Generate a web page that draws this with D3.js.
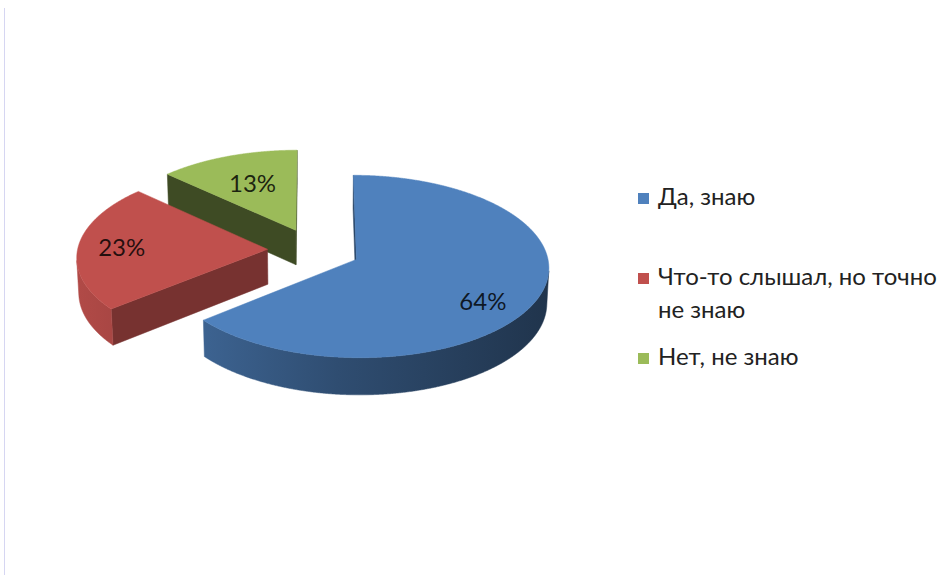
<!DOCTYPE html>
<html>
<head>
<meta charset="utf-8">
<script src="https://cdn.jsdelivr.net/npm/d3@7"></script>
<style>
  body { margin: 0; background: #fff; }
  svg { display: block; }
  text { font-family: Lato, "Noto Sans", sans-serif; }
</style>
</head>
<body>
<svg id="chart" width="937" height="575"></svg>
<script>
// data
var categories = ["Да, знаю", "Что-то слышал, но точно не знаю", "Нет, не знаю"];
var values = [64, 23, 13];
var valueLabels = ["64%", "23%", "13%"];

// styling
var colors = ["#4F81BD", "#C0504D", "#9BBB59"];
var sideShade = [0.55, 0.62, 0.40];   // flat cut faces
var labelRadius = [0.77, 0.77, 0.62];
var labelTurn = [10, 0, 0];           // degrees, clockwise

// 3d view, world units relative to radius 1
var view = {
    cx: 314, cy: 250,   // screen position of unexploded centre
    k: 190,             // pixels per radius
    dist: 11.4,         // camera distance
    tilt: 28 * Math.PI / 180,
    depth: 0.21,
    explode: 0.245
};

var svg = d3.select("#chart");
var defs = svg.append("defs");

// faint frame line on the left
svg.append("line")
    .attr("x1", 4.5).attr("x2", 4.5)
    .attr("y1", 8).attr("y2", 575)
    .attr("stroke", "#d6d6f2").attr("stroke-width", 1);

var cosT = Math.cos(view.tilt), sinT = Math.sin(view.tilt);
var cam = [0, view.dist * sinT, view.dist * cosT];

// world: x right, y up, z toward the viewer
function project(p) {
    var yv = p[1] * cosT - p[2] * sinT;
    var zv = p[1] * sinT + p[2] * cosT;
    var s = view.dist / (view.dist - zv);
    return [view.cx + view.k * p[0] * s, view.cy - view.k * yv * s];
}

function facing(p, n) {
    return (cam[0] - p[0]) * n[0] + (cam[1] - p[1]) * n[1] + (cam[2] - p[2]) * n[2] > 0;
}

function shade(c, f) {
    var r = d3.rgb(c);
    return d3.rgb(r.r * f, r.g * f, r.b * f).formatHex();
}

var line = d3.line().curve(d3.curveLinearClosed);

var arcs = d3.pie().sort(null).value(function(d) { return d; })(values);

var slices = arcs.map(function(a, i) {
    var mid = (a.startAngle + a.endAngle) / 2;
    return {
        i: i,
        a0: a.startAngle,
        a1: a.endAngle,
        mid: mid,
        ox: view.explode * Math.sin(mid),
        oz: -view.explode * Math.cos(mid)
    };
});

function pt(s, theta, r, y) {
    return [s.ox + r * Math.sin(theta), y, s.oz - r * Math.cos(theta)];
}

function samples(a0, a1) {
    var n = Math.max(2, Math.ceil((a1 - a0) / (0.25 * Math.PI / 180)));
    return d3.range(n + 1).map(function(j) { return a0 + (a1 - a0) * j / n; });
}

// wall gradients, lighter on the left
var xl = view.cx - view.k * (1 + view.explode);
var xr = view.cx + view.k * (1 + view.explode);
colors.forEach(function(c, i) {
    var g = defs.append("linearGradient")
        .attr("id", "wall" + i)
        .attr("gradientUnits", "userSpaceOnUse")
        .attr("x1", xl).attr("x2", xr).attr("y1", 0).attr("y2", 0);
    g.append("stop").attr("offset", 0).attr("stop-color", shade(c, 0.92));
    g.append("stop").attr("offset", 0.55).attr("stop-color", shade(c, 0.6));
    g.append("stop").attr("offset", 1).attr("stop-color", shade(c, 0.4));
});

var pie = svg.append("g").attr("class", "pie");
var h = view.depth;

// back to front
slices.slice().sort(function(a, b) { return a.oz - b.oz; }).forEach(function(s) {
    var g = pie.append("g").attr("class", "slice slice" + s.i);
    var c = colors[s.i];

    // cut faces
    [[s.a0, [-Math.cos(s.a0), 0, -Math.sin(s.a0)]],
     [s.a1, [Math.cos(s.a1), 0, Math.sin(s.a1)]]].forEach(function(f) {
        var ctr = [s.ox, 0, s.oz];
        var edge = pt(s, f[0], 1, 0);
        var m = [(ctr[0] + edge[0]) / 2, -h / 2, (ctr[2] + edge[2]) / 2];
        if (!facing(m, f[1])) return;
        var quad = [ctr, edge, pt(s, f[0], 1, -h), [s.ox, -h, s.oz]].map(project);
        g.append("path")
            .attr("d", line(quad))
            .attr("fill", shade(c, sideShade[s.i]))
            .attr("stroke", shade(c, sideShade[s.i]))
            .attr("stroke-width", 0.5);
    });

    // outer wall, only the runs that face the camera
    var runs = [], run = null;
    samples(s.a0, s.a1).forEach(function(t) {
        var vis = facing(pt(s, t, 1, -h / 2), [Math.sin(t), 0, -Math.cos(t)]);
        if (vis) {
            if (!run) { run = []; runs.push(run); }
            run.push(t);
        } else {
            run = null;
        }
    });
    runs.forEach(function(r) {
        var poly = r.map(function(t) { return project(pt(s, t, 1, 0)); })
            .concat(r.slice().reverse().map(function(t) { return project(pt(s, t, 1, -h)); }));
        g.append("path")
            .attr("d", line(poly))
            .attr("fill", "url(#wall" + s.i + ")")
            .attr("stroke", "url(#wall" + s.i + ")")
            .attr("stroke-width", 0.5);
    });

    // top
    var top = [project([s.ox, 0, s.oz])].concat(samples(s.a0, s.a1).map(function(t) {
        return project(pt(s, t, 1, 0));
    }));
    g.append("path")
        .attr("d", line(top))
        .attr("fill", c)
        .attr("stroke", c)
        .attr("stroke-width", 0.5);
});

// value labels
pie.selectAll("text.value")
    .data(slices)
    .enter().append("text")
    .attr("class", "value")
    .attr("transform", function(s) {
        var a = s.mid + labelTurn[s.i] * Math.PI / 180;
        var p = project(pt(s, a, labelRadius[s.i], 0));
        return "translate(" + p[0] + "," + p[1] + ")";
    })
    .attr("text-anchor", "middle")
    .attr("dy", "0.36em")
    .attr("font-size", 24)
    .attr("fill", "#000")
    .attr("fill-opacity", 0.82)
    .text(function(s) { return valueLabels[s.i]; });

// legend: entries on a fixed pitch, long names wrap below
var legend = svg.append("g").attr("class", "legend").attr("transform", "translate(638,205)");
var lineHeight = 33, entryPitch = 80, wrapWidth = 290;
categories.forEach(function(name, i) {
    var row = legend.append("g").attr("transform", "translate(0," + (i * entryPitch) + ")");
    row.append("rect")
        .attr("x", 0).attr("y", -12)
        .attr("width", 11).attr("height", 11)
        .attr("fill", colors[i]);
    var txt = row.append("text")
        .attr("x", 20)
        .attr("font-size", 24)
        .attr("fill", "#222");

    var words = name.split(" "), cur = [], n = 0;
    var tspan = txt.append("tspan").attr("x", 20).attr("y", 0);
    words.forEach(function(w) {
        cur.push(w);
        tspan.text(cur.join(" "));
        if (tspan.node().getComputedTextLength() > wrapWidth && cur.length > 1) {
            cur.pop();
            tspan.text(cur.join(" "));
            cur = [w];
            n++;
            tspan = txt.append("tspan").attr("x", 20).attr("y", n * lineHeight).text(w);
        }
    });
});
</script>
</body>
</html>
